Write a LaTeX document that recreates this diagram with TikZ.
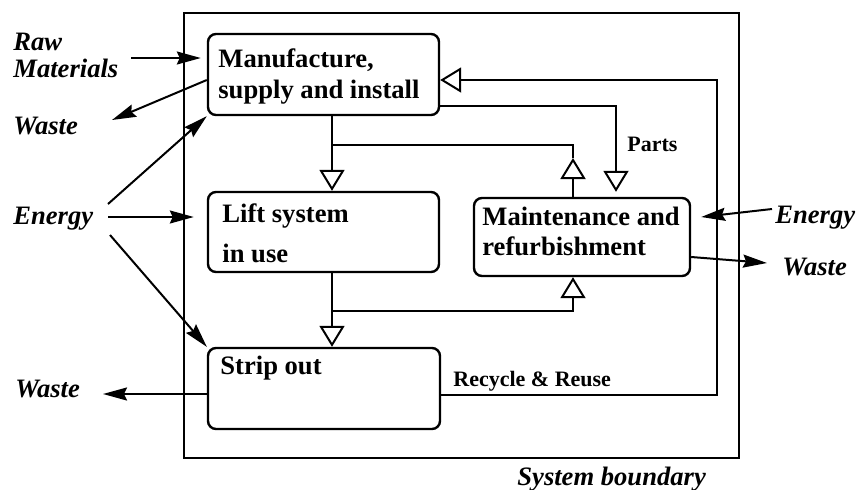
\documentclass[tikz,border=0pt]{standalone}
\usepackage{fontspec}
\setmainfont{Liberation Serif}
\usetikzlibrary{arrows.meta}

\begin{document}
\begin{tikzpicture}[x=0.5pt,y=-0.5pt,
  box/.style={draw,rounded corners=4pt,line width=1.2pt,inner sep=0},
  boxtxt/.style={font=\bfseries\fontsize{13.3}{#1}\selectfont,align=left,inner sep=0,anchor=north west},
  lbl/.style={font=\bfseries\itshape\fontsize{13.3}{13.5}\selectfont,align=left,inner sep=0,anchor=north west},
  tag/.style={font=\bfseries\fontsize{11}{13}\selectfont,inner sep=0,anchor=north west},
  flow/.style={-{Stealth[length=12pt,width=6.5pt,inset=1.5pt]},line width=1pt},
  feed/.style={-{Triangle[open,length=10.5pt,width=12.5pt]},line width=1pt}]
  \useasboundingbox (0,0) rectangle (859,489);
  % system boundary
  \draw[line width=1pt] (184,13) rectangle (739,458);
  \node[lbl] (sysb) at (517,467) {System boundary};
  % stages
  \node[box,minimum width=115.5pt,minimum height=40.5pt] (mfg) at (323.5,74.5) {};
  \node[box,minimum width=115.5pt,minimum height=40pt] (lift) at (323.5,232) {};
  \node[box,minimum width=116pt,minimum height=40.5pt] (strip) at (324,388.5) {};
  \node[box,minimum width=108pt,minimum height=39pt] (maint) at (582,237) {};
  \node[boxtxt=15.5pt] (mfgT) at (218,48) {Manufacture,\\supply and install};
  \node[boxtxt=20pt] (liftT) at (222,203) {Lift system\\in use};
  \node[boxtxt=15pt] (stripT) at (220,356) {Strip out};
  \node[boxtxt=15pt] (maintT) at (482,207) {Maintenance and\\refurbishment};
  % outside labels
  \node[lbl] (raw) at (13,33) {Raw\\Materials};
  \node[lbl] (wasteA) at (13,117) {Waste};
  \node[lbl] (energyL) at (13,207) {Energy};
  \node[lbl] (wasteB) at (15,380) {Waste};
  \node[lbl] (energyR) at (775,206) {Energy};
  \node[lbl] (wasteR) at (782,258) {Waste};
  \node[tag] (parts) at (627,137) {Parts};
  \node[tag] (recyc) at (453,371) {Recycle \& Reuse};
  % free ends
  \coordinate (rawE) at (131,58);
  \coordinate (wA) at (112,120);
  \coordinate (eL1) at (108,204);
  \coordinate (eL2) at (108,217);
  \coordinate (eL3) at (110,235);
  \coordinate (wB) at (103,394);
  \coordinate (eR) at (772,209);
  \coordinate (wR) at (767,263);
  % inputs and outputs
  \draw[flow] (rawE) -- ([xshift=-3pt]mfg.west |- rawE);
  \draw[flow] ([yshift=-2.75pt]mfg.west) -- (wA);
  \draw[flow] (eL1) -- (mfg.south west);
  \draw[flow] (eL2) -- ([xshift=-6.5pt]lift.west |- eL2);
  \draw[flow] (eL3) -- (strip.north west);
  \draw[flow] ([yshift=-2.75pt]strip.west) -- (wB);
  \draw[flow] (eR) -- ([xshift=5pt,yshift=10pt]maint.east);
  \draw[flow] ([yshift=-10pt]maint.east) -- (wR);
  % life cycle links
  \coordinate (j1) at (332,145);
  \coordinate (j2) at (332,311);
  \coordinate (m1) at (573,158);
  \coordinate (pt) at (616,106);
  \coordinate (rr) at (717,80);
  \coordinate (rc) at (717,395);
  \draw[feed] (j1 |- mfg.south) -- (j1 |- lift.north);
  \draw[feed] (m1 |- maint.north) -- (m1);
  \draw[line width=1pt] (m1) |- (j1);
  \draw[feed] (mfg.east |- pt) -| ([yshift=2.5pt]pt |- maint.north);
  \draw[feed] (j1 |- lift.south) -- (j1 |- strip.north);
  \draw[feed] (j2) -| (m1 |- maint.south);
  \draw[feed] (strip.east |- rc) -- (rc) -- (rr) -- (mfg.east |- rr);
\end{tikzpicture}
\end{document}
